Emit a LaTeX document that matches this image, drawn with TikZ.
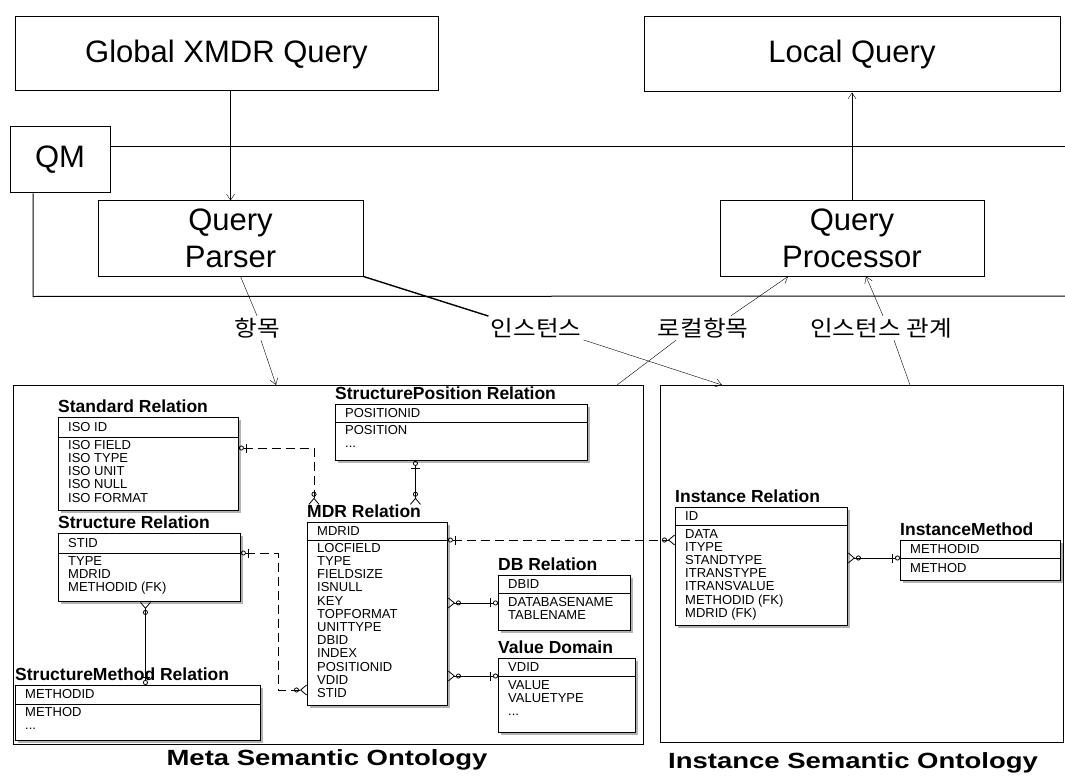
\documentclass[tikz,border=0pt]{standalone}
\usepackage{fontspec}
\setmainfont{Liberation Sans}
\newfontfamily\kr[FakeStretch=1.12]{Noto Sans CJK KR}
\newfontfamily\widebf[FakeStretch=1.25]{Liberation Sans}
\usetikzlibrary{arrows.meta,shadows}

\tikzset{
  ERone/.tip={Bar[width=9pt,sep=2pt] Circle[open,length=5pt,width=5pt]},
  ERmany/.tip={Circle[open,length=5pt,width=5pt,sep=1pt] Straight Barb[reversed,length=6pt,width=10pt]},
}

\begin{document}
\begin{tikzpicture}[x=1pt, y=-1pt, >={Straight Barb[length=6pt,width=8pt]},
  qbox/.style={draw, line width=1pt, inner sep=0pt, align=center, font=\fontsize{31}{37}\selectfont},
  kor/.style={font=\kr\fontsize{22}{24}\selectfont, inner sep=2pt},
  onto/.style={draw, line width=1.4pt, inner sep=0pt, anchor=north west},
  tbl/.style={draw, fill=white, line width=0.9pt, inner sep=0pt, anchor=north west,
    drop shadow={shadow xshift=2.5pt, shadow yshift=-2.5pt, fill=black!60}},
  ttl/.style={font=\bfseries\fontsize{17.5}{19}\selectfont, inner sep=0pt, anchor=south west, yshift=4pt},
  fld/.style={font=\fontsize{13}{13.2}\selectfont, inner sep=0pt, anchor=north west, align=left},
  pkey/.style={font=\fontsize{13}{13.2}\selectfont, inner sep=0pt, anchor=west},
  ontocap/.style={font=\widebf\bfseries\fontsize{22}{26}\selectfont, inner sep=0pt},
  rel/.style={line width=0.8pt},
  nonid/.style={rel, dash pattern=on 9pt off 5pt}]
\useasboundingbox (0,0) rectangle (1065,778);

%query manager
\node[qbox, minimum width=423pt, minimum height=74pt] (glob) at (226.5,54) {Global XMDR Query};
\node[qbox, minimum width=416pt, minimum height=75pt] (local) at (852,54.5) {Local Query};
\node[qbox, minimum width=100pt, minimum height=66pt] (qm) at (60,160) {QM};
\node[qbox, minimum width=265pt, minimum height=75pt] (parser) at (230.5,238.5) {Query\\Parser};
\node[qbox, minimum width=264pt, minimum height=75pt] (proc) at (852,238.5) {Query\\Processor};
\draw[line width=1pt] (qm.east |- 0,147) -- (1065,147);
\draw[line width=1pt] ([xshift=-27pt]qm.south) -- ++(0,103) -- (1065,296);
\draw[->] (parser.north |- glob.south) -- (parser.north);
\draw[->] (proc.north) -- (proc.north |- local.south);

%ontology frames
\node[onto, minimum width=630pt, minimum height=359pt] (monto) at (13,385) {};
\node[onto, minimum width=403pt, minimum height=357pt] (ionto) at (660,385) {};
\node[ontocap] (metac) at (327,760) {Meta Semantic Ontology};
\node[ontocap] (instc) at (853,763) {Instance Semantic Ontology};

%labels between
\node[kor] (lbl1) at (257,328) {항목};
\node[kor] (lbl2) at (536,328) {인스턴스};
\node[kor] (lbl3) at (703,328) {로컬항목};
\node[kor] (lbl4) at (881,328) {인스턴스 관계};
\coordinate (m1) at (276,385);
\coordinate (m2) at (617,385);
\coordinate (i1) at (722,385);
\coordinate (i2) at (910,385);
\draw ([xshift=10pt]parser.south) -- (lbl1.north);
\draw[->] ([xshift=4pt]lbl1.south) -- (m1);
\draw[line width=1.4pt] (parser.south east) -- (lbl2.north west);
\draw[->] (lbl2.south east) -- (i1);
\draw (m2) -- ([xshift=-27pt]lbl3.south);
\draw[->] ([xshift=28pt]lbl3.north) -- ([xshift=-64pt]proc.south);
\draw (i2) -- ([xshift=13pt]lbl4.south);
\draw[->] ([xshift=2pt]lbl4.north) -- ([xshift=14pt]proc.south);

%standard relation
\node[tbl, minimum width=180pt, minimum height=93pt] (std) at (58,417) {};
\node[ttl] (stdt) at (std.north west) {Standard Relation};
\draw ([yshift=-20pt]std.north west) -- ([yshift=-20pt]std.north east);
\node[pkey] at ([xshift=10pt,yshift=-10pt]std.north west) {ISO ID};
\node[fld] at ([xshift=10pt,yshift=-23pt]std.north west) {ISO FIELD\\ISO TYPE\\ISO UNIT\\ISO NULL\\ISO FORMAT};

%structure relation
\node[tbl, minimum width=182pt, minimum height=68pt] (strc) at (58,533) {};
\node[ttl] (strct) at (strc.north west) {Structure Relation};
\draw ([yshift=-20pt]strc.north west) -- ([yshift=-20pt]strc.north east);
\node[pkey] at ([xshift=10pt,yshift=-10pt]strc.north west) {STID};
\node[fld] at ([xshift=10pt,yshift=-23pt]strc.north west) {TYPE\\MDRID\\METHODID (FK)};

%structure method relation
\node[tbl, minimum width=245pt, minimum height=55pt] (smeth) at (15,685) {};
\node[ttl] (smetht) at (smeth.north west) {StructureMethod Relation};
\draw ([yshift=-19pt]smeth.north west) -- ([yshift=-19pt]smeth.north east);
\node[pkey] at ([xshift=10pt,yshift=-9.5pt]smeth.north west) {METHODID};
\node[fld] at ([xshift=10pt,yshift=-22pt]smeth.north west) {METHOD\\...};

%structure position relation
\node[tbl, minimum width=252pt, minimum height=56pt] (spos) at (335,404) {};
\node[ttl] (spost) at (spos.north west) {StructurePosition Relation};
\draw ([yshift=-18pt]spos.north west) -- ([yshift=-18pt]spos.north east);
\node[pkey] at ([xshift=10pt,yshift=-9pt]spos.north west) {POSITIONID};
\node[fld] at ([xshift=10pt,yshift=-21pt]spos.north west) {POSITION\\...};

%mdr relation
\node[tbl, minimum width=140pt, minimum height=183pt] (mdr) at (307,522) {};
\node[ttl] (mdrt) at (mdr.north west) {MDR Relation};
\draw ([yshift=-18pt]mdr.north west) -- ([yshift=-18pt]mdr.north east);
\node[pkey] at ([xshift=10pt,yshift=-9pt]mdr.north west) {MDRID};
\node[fld] at ([xshift=10pt,yshift=-21pt]mdr.north west) {LOCFIELD\\TYPE\\FIELDSIZE\\ISNULL\\KEY\\TOPFORMAT\\UNITTYPE\\DBID\\INDEX\\POSITIONID\\VDID\\STID};

%db relation
\node[tbl, minimum width=132pt, minimum height=55pt] (db) at (498,575) {};
\node[ttl] (dbt) at (db.north west) {DB Relation};
\draw ([yshift=-18pt]db.north west) -- ([yshift=-18pt]db.north east);
\node[pkey] at ([xshift=10pt,yshift=-9pt]db.north west) {DBID};
\node[fld] at ([xshift=10pt,yshift=-22pt]db.north west) {DATABASENAME\\TABLENAME};

%value domain
\node[tbl, minimum width=137pt, minimum height=74pt] (vd) at (498,658) {};
\node[ttl] (vdt) at (vd.north west) {Value Domain};
\draw ([yshift=-18pt]vd.north west) -- ([yshift=-18pt]vd.north east);
\node[pkey] at ([xshift=10pt,yshift=-9pt]vd.north west) {VDID};
\node[fld] at ([xshift=10pt,yshift=-22pt]vd.north west) {VALUE\\VALUETYPE\\...};

%instance relation
\node[tbl, minimum width=172pt, minimum height=118pt] (ins) at (675,507) {};
\node[ttl] (inst) at (ins.north west) {Instance Relation};
\draw ([yshift=-18pt]ins.north west) -- ([yshift=-18pt]ins.north east);
\node[pkey] at ([xshift=10pt,yshift=-9pt]ins.north west) {ID};
\node[fld] at ([xshift=10pt,yshift=-22pt]ins.north west) {DATA\\ITYPE\\STANDTYPE\\ITRANSTYPE\\ITRANSVALUE\\METHODID (FK)\\MDRID (FK)};

%instance method
\node[tbl, minimum width=160pt, minimum height=40pt] (imeth) at (900,540) {};
\node[ttl] (imetht) at (imeth.north west) {InstanceMethod};
\draw ([yshift=-18pt]imeth.north west) -- ([yshift=-18pt]imeth.north east);
\node[pkey] at ([xshift=10pt,yshift=-9pt]imeth.north west) {METHODID};
\node[pkey] at ([xshift=10pt,yshift=-28pt]imeth.north west) {METHOD};

%relationships
\draw[nonid, ERone-ERmany] ([yshift=-31pt]std.north east) -| ([xshift=7pt]mdrt.north west);
\draw[nonid, ERone-ERmany] ([yshift=-20pt]strc.north east) -- ++(37,0) |- ([yshift=-168pt]mdr.north west);
\draw[rel, ERone-ERmany] ([xshift=-4pt]smeth.north west -| strc.south) -- ([xshift=-4pt]strc.south);
\draw[rel, ERone-ERmany] ([xshift=-46pt]spos.south) -- ([xshift=-46pt]spos.south |- mdrt.north);
\draw[rel, ERone-ERmany] (db.west) -- (mdr.east |- db.west);
\draw[rel, ERone-ERmany] ([yshift=-18pt]vd.north west) -- ([yshift=-154pt]mdr.north east);
\draw[nonid, ERone-ERmany] ([yshift=-18pt]mdr.north east) -- ([yshift=-33pt]ins.north west);
\draw[rel, ERone-ERmany] ([yshift=-18pt]imeth.north west) -- ([yshift=-51pt]ins.north east);
\end{tikzpicture}
\end{document}
